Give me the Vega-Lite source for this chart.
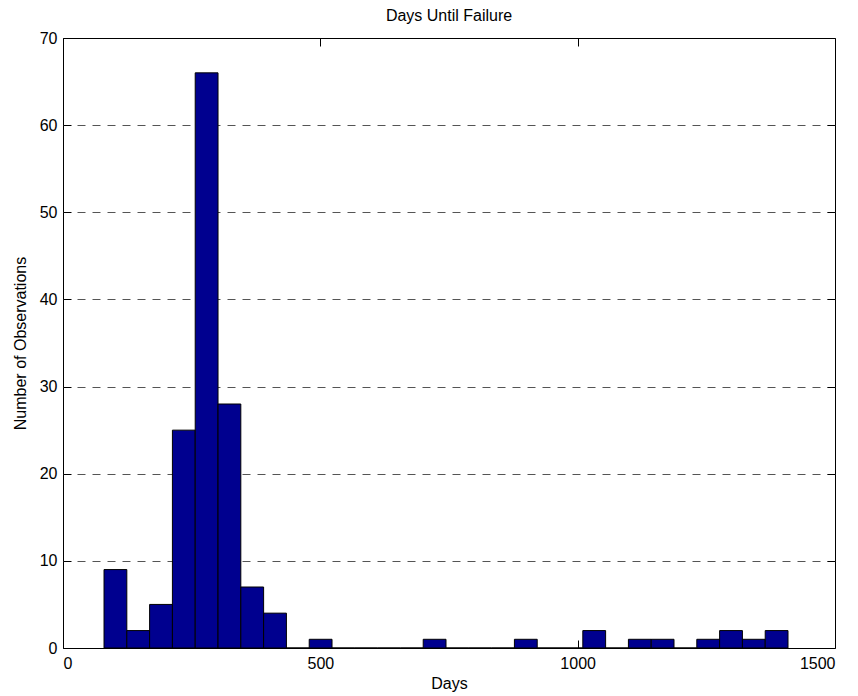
{
  "$schema": "https://vega.github.io/schema/vega-lite/v6.json",
  "width": 772,
  "height": 610,
  "autosize": {"type": "none"},
  "padding": {"left": 63, "top": 38, "right": 23, "bottom": 48},
  "background": "white",
  "config": {
    "font": "Liberation Sans",
    "view": {"stroke": "black", "strokeWidth": 1},
    "axis": {
      "labelFont": "Liberation Sans",
      "titleFont": "Liberation Sans",
      "labelFontSize": 16,
      "titleFontSize": 16,
      "labelColor": "black",
      "titleColor": "black",
      "titleFontWeight": "normal",
      "tickColor": "black",
      "tickSize": -8,
      "tickWidth": 1,
      "domain": false,
      "grid": false
    }
  },
  "title": {
    "text": "Days Until Failure",
    "fontSize": 16,
    "fontWeight": "normal",
    "font": "Liberation Sans",
    "color": "black",
    "baseline": "alphabetic",
    "offset": -7
  },
  "data": {
    "values": [
      {"start": 79.7, "end": 124.0, "count": 9},
      {"start": 124.0, "end": 168.3, "count": 2},
      {"start": 168.3, "end": 212.6, "count": 5},
      {"start": 212.6, "end": 256.9, "count": 25},
      {"start": 256.9, "end": 301.2, "count": 66},
      {"start": 301.2, "end": 345.5, "count": 28},
      {"start": 345.5, "end": 389.8, "count": 7},
      {"start": 389.8, "end": 434.1, "count": 4},
      {"start": 434.1, "end": 478.4, "count": 0},
      {"start": 478.4, "end": 522.7, "count": 1},
      {"start": 522.7, "end": 567.0, "count": 0},
      {"start": 567.0, "end": 611.3, "count": 0},
      {"start": 611.3, "end": 655.6, "count": 0},
      {"start": 655.6, "end": 699.9, "count": 0},
      {"start": 699.9, "end": 744.2, "count": 1},
      {"start": 744.2, "end": 788.5, "count": 0},
      {"start": 788.5, "end": 832.8, "count": 0},
      {"start": 832.8, "end": 877.1, "count": 0},
      {"start": 877.1, "end": 921.4, "count": 1},
      {"start": 921.4, "end": 965.7, "count": 0},
      {"start": 965.7, "end": 1010.0, "count": 0},
      {"start": 1010.0, "end": 1054.3, "count": 2},
      {"start": 1054.3, "end": 1098.6, "count": 0},
      {"start": 1098.6, "end": 1142.9, "count": 1},
      {"start": 1142.9, "end": 1187.2, "count": 1},
      {"start": 1187.2, "end": 1231.5, "count": 0},
      {"start": 1231.5, "end": 1275.8, "count": 1},
      {"start": 1275.8, "end": 1320.1, "count": 2},
      {"start": 1320.1, "end": 1364.4, "count": 1},
      {"start": 1364.4, "end": 1408.7, "count": 2}
    ]
  },
  "layer": [
    {
      "mark": {"type": "bar", "opacity": 0},
      "encoding": {
        "x": {
          "field": "start", "type": "quantitative",
          "scale": {"domain": [0, 1500], "nice": false, "zero": false},
          "axis": {"orient": "top", "values": [0, 500, 1000, 1500], "labels": false, "title": null}
        },
        "x2": {"field": "end"},
        "y": {
          "field": "count", "type": "quantitative",
          "scale": {"domain": [0, 70], "nice": false},
          "axis": {
            "orient": "right",
            "values": [10, 20, 30, 40, 50, 60],
            "labels": false,
            "title": null,
            "grid": true,
            "gridColor": "#555555",
            "gridDash": [8, 7],
            "gridWidth": 1
          }
        },
        "y2": {"datum": 0}
      }
    },
    {
      "mark": {"type": "bar", "fill": "#00008F", "stroke": "black", "strokeWidth": 1},
      "encoding": {
        "x": {
          "field": "start", "type": "quantitative",
          "axis": {
            "orient": "bottom",
            "values": [0, 500, 1000, 1500],
            "format": "d",
            "title": "Days",
            "labelPadding": 15,
            "titlePadding": 4
          }
        },
        "x2": {"field": "end"},
        "y": {
          "field": "count", "type": "quantitative",
          "axis": {
            "orient": "left",
            "values": [0, 10, 20, 30, 40, 50, 60, 70],
            "title": "Number of Observations",
            "labelPadding": 14,
            "titlePadding": 11
          }
        },
        "y2": {"datum": 0}
      }
    }
  ],
  "resolve": {"axis": {"x": "independent", "y": "independent"}}
}
